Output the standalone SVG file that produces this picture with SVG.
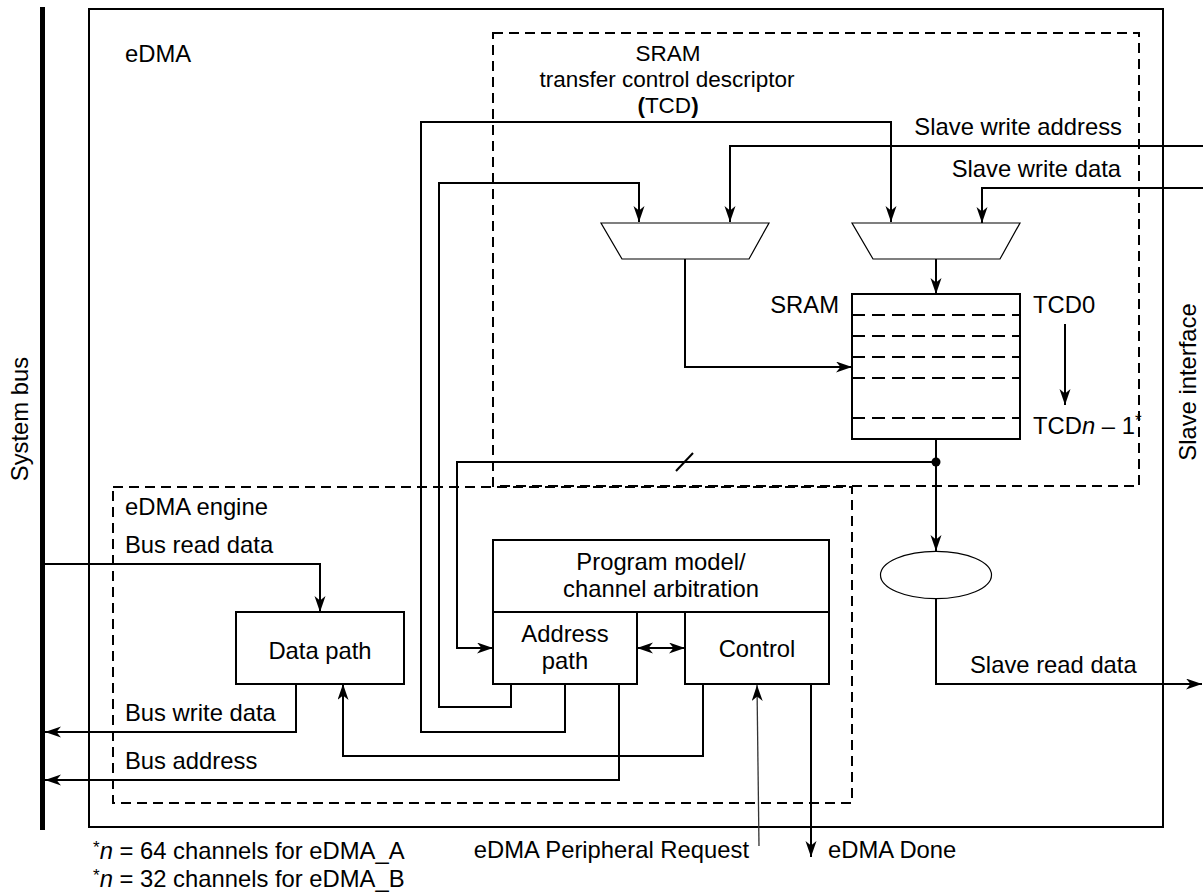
<svg xmlns="http://www.w3.org/2000/svg" width="1203" height="892" viewBox="0 0 1203 892">
<style>
text{font-family:"Liberation Sans",Arial,Helvetica,sans-serif;font-size:23.8px;fill:#000}
.ln{fill:none;stroke:#000;stroke-width:2}
.arr{marker-end:url(#ah)}
.dash{fill:none;stroke:#000;stroke-width:2;stroke-dasharray:10 6}
.sdash{fill:none;stroke:#000;stroke-width:2;stroke-dasharray:13 7}
.box{fill:#fff;stroke:#000;stroke-width:2}
.thin{fill:#fff;stroke:#000;stroke-width:1.2}
.mid{text-anchor:middle}
.ttl{font-size:22.5px}
</style>
<defs>
<marker id="ah" markerUnits="userSpaceOnUse" markerWidth="18" markerHeight="12" refX="16" refY="5.5" orient="auto-start-reverse">
<path d="M0,0 L16,5.5 L0,11 L4.5,5.5 Z" fill="#000"/>
</marker>
</defs>
<rect width="1203" height="892" fill="#fff"/>

<g id="system-bus">
<line x1="42.5" y1="7" x2="42.5" y2="830" stroke="#000" stroke-width="5"/>
<text transform="translate(28,419) rotate(-90)" class="mid">System bus</text>
</g>

<g id="edma">
<rect x="89" y="9" width="1074" height="818" fill="none" stroke="#000" stroke-width="2"/>
<text x="125" y="62">eDMA</text>
</g>

<g id="slave-interface">
<text transform="translate(1196,382) rotate(-90)" class="mid">Slave interface</text>
</g>

<g id="tcd-region">
<rect x="493" y="33" width="646" height="453" class="dash"/>
<text x="668" y="61" class="mid ttl">SRAM</text>
<text x="667" y="87" class="mid ttl">transfer control descriptor</text>
<text x="668" y="113" class="mid ttl"><tspan font-weight="bold">(</tspan>TCD<tspan font-weight="bold">)</tspan></text>
</g>

<g id="edma-engine">
<rect x="113" y="487" width="739" height="316" class="dash"/>
<text x="125" y="515">eDMA engine</text>
</g>

<g id="connectors">
<path class="ln arr" d="M565,684 V732 H421 V122 H891 V222"/>
<path class="ln arr" d="M511,684 V707 H439 V183 H639 V222"/>
<path class="ln arr" d="M936,462 H457 V648 H493"/>
<path class="ln" d="M676,471 L693,453"/>
<path class="ln arr" d="M936,439 V551"/>
<path class="ln arr" d="M936,599 V684 H1202"/>
<path class="ln arr" d="M685,259 V367 H852"/>
<path class="ln arr" d="M936,259 V294"/>
<path class="ln arr" d="M1203,146 H730 V222"/>
<path class="ln arr" d="M1203,188 H982 V223"/>
<path class="ln arr" d="M1065,324 V405"/>
<path class="ln arr" d="M45,564 H320 V612"/>
<path class="ln arr" d="M296,684 V732 H45"/>
<path class="ln arr" d="M619,684 V780 H45"/>
<path class="ln arr" d="M703,684 V756 H343 V684"/>
<path class="ln arr" d="M637,648 H685" style="marker-start:url(#ah)"/>
<path d="M759,846 L757,685" fill="none" stroke="#333" stroke-width="1.3" marker-end="url(#ah)"/>
<path class="ln arr" d="M811,684 V857"/>
<circle cx="936" cy="462" r="4.5" fill="#000"/>
</g>

<g id="mux-address">
<polygon points="601,223 769,223 749,259 622,259" class="thin"/>
</g>
<g id="mux-data">
<polygon points="852,223 1020,223 1000,259 873,259" class="thin"/>
</g>

<g id="sram">
<rect x="852" y="294" width="168" height="145" class="box"/>
<path class="sdash" d="M852,315 H1020 M852,336 H1020 M852,357 H1020 M852,378 H1020 M852,418 H1020"/>
<text x="839" y="313" text-anchor="end">SRAM</text>
<text x="1033" y="313">TCD0</text>
<text x="1033" y="434">TCD<tspan font-style="italic">n</tspan> – 1<tspan font-size="17" dy="-8">*</tspan></text>
</g>

<g id="read-mux">
<ellipse cx="936" cy="575" rx="55.5" ry="23.7" class="thin"/>
</g>

<g id="program-model">
<rect x="493" y="540" width="336" height="72" class="box"/>
<text x="661" y="570" class="mid">Program model/</text>
<text x="661" y="597" class="mid">channel arbitration</text>
</g>
<g id="address-path">
<rect x="493" y="612" width="144" height="72" class="box"/>
<text x="565" y="642" class="mid">Address</text>
<text x="565" y="669" class="mid">path</text>
</g>
<g id="control">
<rect x="685" y="612" width="144" height="72" class="box"/>
<text x="757" y="657" class="mid">Control</text>
</g>
<g id="data-path">
<rect x="236" y="612" width="168" height="72" class="box"/>
<text x="320" y="659" class="mid">Data path</text>
</g>

<g id="labels">
<text x="1122" y="135" text-anchor="end">Slave write address</text>
<text x="1121" y="177" text-anchor="end">Slave write data</text>
<text x="970" y="673">Slave read data</text>
<text x="125" y="553">Bus read data</text>
<text x="125" y="721">Bus write data</text>
<text x="125" y="769">Bus address</text>
<text x="749" y="858" text-anchor="end">eDMA Peripheral Request</text>
<text x="828" y="858">eDMA Done</text>
<text x="93" y="859"><tspan font-size="17" dy="-6">*</tspan><tspan dy="6" font-style="italic">n</tspan> = 64 channels for eDMA_A</text>
<text x="93" y="887"><tspan font-size="17" dy="-6">*</tspan><tspan dy="6" font-style="italic">n</tspan> = 32 channels for eDMA_B</text>
</g>
</svg>
